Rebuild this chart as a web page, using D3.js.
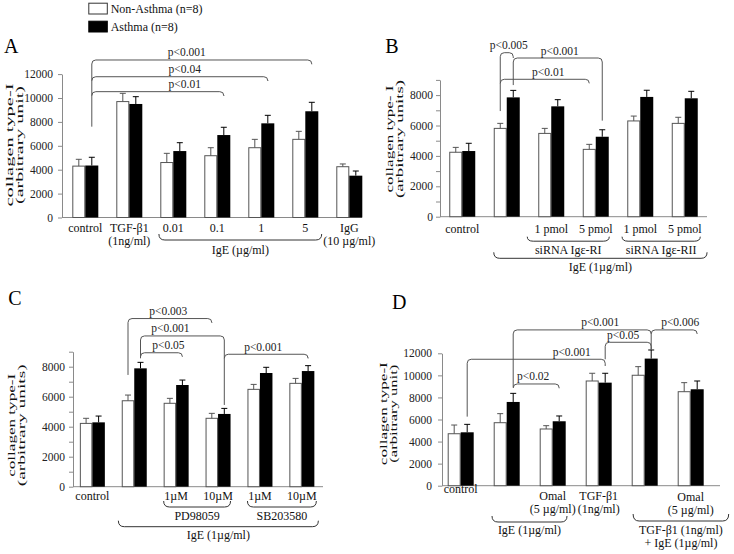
<!DOCTYPE html>
<html>
<head>
<meta charset="utf-8">
<script src="https://cdn.jsdelivr.net/npm/d3@7"></script>
<style>
  body { margin: 0; background: #fff; }
  svg { display: block; font-family: 'Liberation Serif', 'Times New Roman', serif; }
</style>
</head>
<body>
<svg id="fig" width="734" height="554"></svg>
<script>
// ---- data ----
const seriesNames = ['Non-Asthma (n=8)', 'Asthma (n=8)'];

// A
const aCats = ['control', 'TGF', '0.01', '0.1', '1', '5', 'IgG'];
const aLabels = [['control'], ['TGF-β1', '(1ng/ml)'], ['0.01'], ['0.1'], ['1'], ['5'], ['IgG', '(10 µg/ml)']];
const aNon = [4300, 9700, 4600, 5170, 5840, 6540, 4250];
const aNonErr = [570, 690, 770, 670, 700, 670, 230];
const aAst = [4350, 9500, 5560, 6900, 7880, 8890, 3500];
const aAstErr = [690, 610, 700, 650, 670, 750, 390];
const aTicks = [0, 2000, 4000, 6000, 8000, 10000, 12000];

// B
const bCats = ['control', 'IgE', 'RI-1', 'RI-5', 'RII-1', 'RII-5'];
const bLabels = [['control'], [''], ['1 pmol'], ['5 pmol'], ['1 pmol'], ['5 pmol']];
const bNon = [4240, 5810, 5480, 4430, 6300, 6140];
const bNonErr = [320, 330, 330, 330, 320, 400];
const bAst = [4320, 7850, 7260, 5260, 7880, 7790];
const bAstErr = [510, 460, 440, 460, 440, 460];
const bTicks = d3.range(0, 9001, 1000);

// C
const cCats = ['control', 'IgE', 'PD-1', 'PD-10', 'SB-1', 'SB-10'];
const cLabels = [['control'], [''], ['1µM'], ['10µM'], ['1µM'], ['10µM']];
const cNon = [4220, 5730, 5560, 4560, 6490, 6890];
const cNonErr = [340, 380, 330, 330, 330, 330];
const cAst = [4290, 7890, 6780, 4850, 7580, 7710];
const cAstErr = [420, 400, 330, 370, 380, 360];
const cTicks = d3.range(0, 9001, 1000);

// D
const dCats = ['control', 'IgE', 'Omal', 'TGF', 'TGFIgE', 'Omal2'];
const dLabels = [['control'], [''], ['Omal', '(5 µg/ml)'], ['TGF-β1', '(1ng/ml)'], [''], ['Omal', '(5 µg/ml)']];
const dNon = [4710, 5710, 5140, 9490, 10010, 8520];
const dNonErr = [790, 820, 300, 700, 780, 820];
const dAst = [4840, 7590, 5840, 9340, 11520, 8740];
const dAstErr = [720, 780, 480, 850, 780, 750];
const dTicks = [0, 2000, 4000, 6000, 8000, 10000, 12000];

// significance brackets: legs in data units
const aSig = [
  { from: ['control', 1], to: ['5', 1], base: 7600, level: 13180, end: 12820, label: 'p<0.001', dx: -15 },
  { from: ['control', 1], to: ['1', 1], level: 11780, end: 11510, label: 'p<0.04', dx: 5 },
  { from: ['control', 1], to: ['0.1', 1], level: 10530, end: 10250, label: 'p<0.01', dx: 27 }
];
const bSig = [
  { from: ['IgE', 0], to: ['IgE', 1], base: 6950, level: 10790, end: 10440, label: 'p<0.005', dx: 2 },
  { from: ['IgE', 1], to: ['RI-5', 1], base: 8660, level: 10440, end: 6320, label: 'p<0.001', dx: 2 },
  { from: ['IgE', 0], to: ['RI-5', 0], level: 9040, end: 8780, label: 'p<0.01', dx: 3.5 }
];
const cSig = [
  { from: ['IgE', 0], to: ['PD-10', 0], base: 7450, level: 11210, end: 10980, label: 'p<0.003', dx: -1.6 },
  { from: ['IgE', 1], to: ['PD-10', 1], base: 8560, level: 10050, end: 5450, label: 'p<0.001', dx: -12 },
  { from: ['IgE', 1], to: ['PD-1', 1], level: 8930, end: 8670, label: 'p<0.05', dx: 7 },
  { from: ['PD-10', 1], to: ['SB-10', 1], level: 8830, end: 8600, label: 'p<0.001', dx: -3 }
];
const dSig = [
  { from: ['control', 1], to: ['TGF', 1], base: 6260, level: 11460, end: 10850, label: 'p<0.001', dx: 35.5 },
  { from: ['IgE', 1], to: ['TGFIgE', 1], base: 8920, level: 14120, end: 12300, label: 'p<0.001', dx: 18 },
  { from: ['TGF', 1], to: ['TGFIgE', 1], base: 11460, level: 13000, end: 12300, label: 'p<0.05', dx: -5 },
  { from: ['TGFIgE', 1], to: ['Omal2', 1], level: 14120, end: 13750, label: 'p<0.006', dx: 6 },
  { from: ['IgE', 1], to: ['Omal', 1], level: 9220, end: 8830, label: 'p<0.02', dx: -3 }
];

// ---- layout ----
const panels = [
  {
    letter: 'A', lx: 4, ly: 53.3,
    cats: aCats, labels: aLabels, non: aNon, nonErr: aNonErr, ast: aAst, astErr: aAstErr,
    ticks: aTicks, yMax: 12000, y0: 217.5, yTop: 74.1, axisX: 62, axisEnd: 362, tickPad: 5,
    range: [63.3, 371.3], bw: 26, labelY: 232,
    title: ['collagen type-I', '(arbitrary unit)'], tx: [12.8, 23.3], ty: 145, tlen: [123, 118],
    braces: [{ from: '0.01', to: '5', padL: 1.4, padR: 3.4, top: 234, depth: 6, text: ['IgE (µg/ml)'], ty: 254 }],
    sig: aSig
  },
  {
    letter: 'B', lx: 385.3, ly: 53.3,
    cats: bCats, labels: bLabels, non: bNon, nonErr: bNonErr, ast: bAst, astErr: bAstErr,
    ticks: bTicks, yMax: 9000, y0: 216.7, yTop: 79.9, axisX: 440, axisEnd: 707, tickPad: 3,
    range: [440, 707], bw: 26, labelY: 233,
    title: ['collagen type- I', '(arbitrary units)'], tx: [393, 403], ty: 139, tlen: [107, 118],
    braces: [
      { from: 'RI-1', to: 'RI-5', padL: 11, padR: 0.5, top: 236.7, depth: 4.5, text: ['siRNA Igε-RI'], ty: 254 },
      { from: 'RII-1', to: 'RII-5', padL: 5.2, padR: 2.5, top: 236.7, depth: 4.5, text: ['siRNA Igε-RII'], ty: 254 },
      { from: 'IgE', to: 'RII-5', padL: 0, padR: 9.3, top: 252.3, depth: 6, text: ['IgE (1µg/ml)'], ty: 270.7 }
    ],
    sig: bSig
  },
  {
    letter: 'C', lx: 8.3, ly: 305.3,
    cats: cCats, labels: cLabels, non: cNon, nonErr: cNonErr, ast: cAst, astErr: cAstErr,
    ticks: cTicks, yMax: 9000, y0: 486.7, yTop: 351.7, axisX: 73, axisEnd: 323, tickPad: 4,
    range: [71.4, 322.8], bw: 25, labelY: 500,
    title: ['collagen type-I', '(arbitrary units)'], tx: [14.5, 24.5], ty: 425.3, tlen: [103, 122],
    braces: [
      { from: 'PD-1', to: 'PD-10', padL: 0, padR: 0, top: 501, depth: 6, text: ['PD98059'], ty: 520 },
      { from: 'SB-1', to: 'SB-10', padL: 0, padR: 2, top: 501, depth: 6, text: ['SB203580'], ty: 520 },
      { from: 'IgE', to: 'SB-10', padL: 3.4, padR: 4, top: 520.7, depth: 6, text: ['IgE (1µg/ml)'], ty: 539 }
    ],
    sig: cSig
  },
  {
    letter: 'D', lx: 392, ly: 308.7,
    cats: dCats, labels: dLabels, non: dNon, nonErr: dNonErr, ast: dAst, astErr: dAstErr,
    ticks: dTicks, yMax: 12000, y0: 485.7, yTop: 353.3, axisX: 442, axisEnd: 720, tickPad: 6,
    range: [437.7, 713.7], bw: 26, labelY: [493, 500, 500, 500, 500, 501],
    title: ['collagen type-I', '(arbitrary unit)'], tx: [386.5, 396.5], ty: 413.7, tlen: [103, 98],
    braces: [
      { from: 'IgE', to: 'Omal', padL: 1.7, padR: 1.3, top: 516, depth: 6, text: ['IgE (1µg/ml)'], ty: 534 },
      { from: 'TGFIgE', to: 'Omal2', padL: -1.4, padR: 25, top: 514, depth: 7, text: ['TGF-β1 (1ng/ml)', '+ IgE (1µg/ml)'], ty: 533.5 }
    ],
    sig: dSig
  }
];

const svg = d3.select('#fig');
const axisColor = '#8a8a8a';
const lineColor = '#555';

function drawPanel(p) {
  const g = svg.append('g');
  const n = p.cats.length;
  const step = (p.range[1] - p.range[0]) / n;
  const pad = 1 - p.bw / step;
  const x = d3.scaleBand().domain(p.cats).range(p.range).paddingInner(pad).paddingOuter(pad / 2);
  const sub = d3.scaleBand().domain([0, 1]).range([0, x.bandwidth()]);
  const y = d3.scaleLinear().domain([0, p.yMax]).range([p.y0, p.yTop]);
  const cx = (cat, s) => x(cat) + sub(s) + sub.bandwidth() / 2;

  // y axis
  const yAxis = g.append('g')
    .attr('transform', 'translate(' + p.axisX + ',0)')
    .call(d3.axisLeft(y).tickValues(p.ticks).tickSize(4).tickSizeOuter(0).tickPadding(p.tickPad)
      .tickFormat(d => d % 2000 ? '' : d));
  yAxis.select('.domain').attr('stroke', axisColor);
  yAxis.selectAll('.tick line').attr('stroke', axisColor);
  yAxis.selectAll('.tick text')
    .attr('font-family', "'Liberation Serif', 'Times New Roman', serif")
    .attr('font-size', 11.5).attr('fill', '#222');

  // baseline
  g.append('line')
    .attr('x1', p.axisX).attr('x2', p.axisEnd)
    .attr('y1', y(0)).attr('y2', y(0))
    .attr('stroke', axisColor);

  // bars
  const series = [
    { vals: p.non, errs: p.nonErr, fill: '#fff', stroke: '#555', err: '#555' },
    { vals: p.ast, errs: p.astErr, fill: '#000', stroke: '#000', err: '#000' }
  ];
  series.forEach((s, si) => {
    const rows = p.cats.map((c, i) => ({ c, v: s.vals[i], e: s.errs[i] }));
    g.append('g').selectAll('rect').data(rows).join('rect')
      .attr('x', d => x(d.c) + sub(si) + (si === 0 ? 0.5 : 0))
      .attr('width', sub.bandwidth() - (si === 0 ? 1 : 0))
      .attr('y', d => y(d.v))
      .attr('height', d => y(0) - y(d.v))
      .attr('fill', s.fill)
      .attr('stroke', s.stroke)
      .attr('stroke-width', si === 0 ? 1 : 0);
    const eg = g.append('g').attr('stroke', s.err).attr('stroke-width', 1);
    eg.selectAll('line.v').data(rows).join('line').attr('class', 'v')
      .attr('x1', d => cx(d.c, si)).attr('x2', d => cx(d.c, si))
      .attr('y1', d => y(d.v)).attr('y2', d => y(d.v + d.e));
    eg.selectAll('line.h').data(rows).join('line').attr('class', 'h')
      .attr('x1', d => cx(d.c, si) - 3).attr('x2', d => cx(d.c, si) + 3)
      .attr('y1', d => y(d.v + d.e)).attr('y2', d => y(d.v + d.e));
  });

  // category labels
  p.cats.forEach((c, i) => {
    const ly = Array.isArray(p.labelY) ? p.labelY[i] : p.labelY;
    const t = g.append('text')
      .attr('text-anchor', 'middle')
      .attr('font-size', 12).attr('fill', '#111');
    p.labels[i].forEach((line, k) => {
      t.append('tspan').attr('x', x(c) + x.bandwidth() / 2).attr('y', ly + k * 12.8).text(line);
    });
  });

  // braces under groups
  p.braces.forEach(b => {
    const x0 = x(b.from) - b.padL;
    const x1 = x(b.to) + x.bandwidth() + b.padR;
    const yb = b.top + b.depth;
    const r = 6;
    g.append('path')
      .attr('d', `M${x0},${b.top} Q${x0},${yb} ${x0 + r},${yb} L${x1 - r},${yb} Q${x1},${yb} ${x1},${b.top}`)
      .attr('fill', 'none').attr('stroke', '#333').attr('stroke-width', 1);
    const t = g.append('text').attr('text-anchor', 'middle').attr('font-size', 12).attr('fill', '#111');
    b.text.forEach((line, k) => {
      t.append('tspan').attr('x', (x0 + x1) / 2).attr('y', b.ty + k * 13).text(line);
    });
  });

  // significance brackets
  const r = 4;
  p.sig.forEach(s => {
    const xf = cx(s.from[0], s.from[1]);
    const xt = cx(s.to[0], s.to[1]);
    const yl = y(s.level);
    const yfb = s.base != null ? y(s.base) : yl + r;
    const ytb = y(s.end);
    g.append('path')
      .attr('d', `M${xf},${yfb} L${xf},${yl + r} Q${xf},${yl} ${xf + r},${yl} L${xt - r},${yl} Q${xt},${yl} ${xt},${yl + r} L${xt},${ytb}`)
      .attr('fill', 'none').attr('stroke', lineColor).attr('stroke-width', 1);
    g.append('text')
      .attr('x', (xf + xt) / 2 + s.dx).attr('y', yl - 3.5)
      .attr('text-anchor', 'middle').attr('font-size', 11.5).attr('fill', '#222')
      .text(s.label);
  });

  // y-axis title (stretched along its length like the original)
  p.title.forEach((line, k) => {
    g.append('text')
      .attr('transform', `translate(${p.tx[k]},${p.ty}) rotate(-90)`)
      .attr('text-anchor', 'middle')
      .attr('font-size', 11).attr('fill', '#111')
      .attr('textLength', p.tlen[k]).attr('lengthAdjust', 'spacingAndGlyphs')
      .text(line);
  });

  // panel letter
  g.append('text').attr('x', p.lx).attr('y', p.ly)
    .attr('font-size', 20).attr('fill', '#000').text(p.letter);
}

panels.forEach(drawPanel);

// legend
const legend = svg.append('g');
seriesNames.forEach((name, i) => {
  legend.append('rect')
    .attr('x', 88.8).attr('y', 3.2 + i * 18).attr('width', 18.5).attr('height', 10.8)
    .attr('fill', i === 0 ? '#fff' : '#000')
    .attr('stroke', i === 0 ? '#333' : '#000');
  legend.append('text')
    .attr('x', 110.7).attr('y', 12.5 + i * 18)
    .attr('font-size', 12).attr('fill', '#111')
    .text(name);
});
</script>
</body>
</html>
